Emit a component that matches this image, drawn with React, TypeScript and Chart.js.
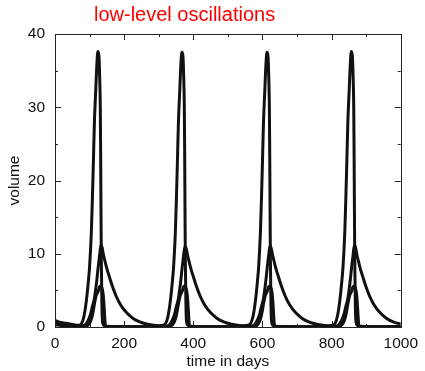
import React, { useEffect, useRef } from "react";
import { Chart, registerables } from "chart.js";

Chart.register(...registerables);

const chartTitle = "low-level oscillations";
const xTitle = "time in days";
const yTitle = "volume";

const xMin = 0;
const xMax = 1000;
const xStep = 200;
const yMin = 0;
const yMax = 40;
const yStep = 10;
const xMinorTicks = [100, 300, 500, 700, 900];
const yMinorTicks = [5, 15, 25, 35];

// tall curve [day, volume]
const volA: [number, number][] = [
  [0, 0.9], [10, 0.7], [30, 0.5], [50, 0.35], [70, 0.25],
  [77, 0.5], [84, 1.5], [91, 3.7], [96, 6], [100, 8.2], [105, 12.8], [108, 17.3], [111, 22.5], [114, 28], [118, 32.5], [121, 35.8], [124, 37.6], [127, 37], [129, 34.5], [131, 30], [132, 24], [133, 16], [134, 9], [135.5, 3.5], [137, 1], [140, 0.3], [150, 0.1], [220, 0.05], [300, 0.15],
  [313, 0.25], [320, 0.5], [327, 1.5], [334, 3.7], [339, 6], [343, 8.2], [348, 12.8], [351, 17.3], [354, 22.5], [357, 28], [361, 32.5], [364, 35.8], [367, 37.5], [370, 37], [372, 34.5], [374, 30], [375, 24], [376, 16], [377, 9], [378.5, 3.5], [380, 1], [383, 0.3], [393, 0.1], [460, 0.05], [545, 0.15],
  [559, 0.25], [566, 0.5], [573, 1.5], [580, 3.7], [585, 6], [589, 8.2], [594, 12.8], [597, 17.3], [600, 22.5], [603, 28], [607, 32.5], [610, 35.8], [613, 37.5], [616, 37], [618, 34.5], [620, 30], [621, 24], [622, 16], [623, 9], [624.5, 3.5], [626, 1], [629, 0.3], [639, 0.1], [710, 0.05], [790, 0.15],
  [803, 0.25], [810, 0.5], [817, 1.5], [824, 3.7], [829, 6], [833, 8.2], [838, 12.8], [841, 17.3], [844, 22.5], [847, 28], [851, 32.5], [854, 35.8], [857, 37.6], [860, 37], [862, 34.5], [864, 30], [865, 24], [866, 16], [867, 9], [868.5, 3.5], [870, 1], [873, 0.3], [883, 0.1], [950, 0.05], [1000, 0.1],
];

// medium curve [day, volume]
const volB: [number, number][] = [
  [0, 0.5], [30, 0.3], [60, 0.15],
  [85, 0.2], [91, 0.5], [97, 1], [103, 1.8], [108, 2.8], [114, 3.9], [120, 6], [125, 8.2], [129, 9.8], [133, 11.2], [136, 10.9], [140, 9.9], [145, 8.9], [151, 7.8], [157, 6.9], [165, 5.7], [177, 4.2], [190, 3], [206, 2], [225, 1.2], [245, 0.7], [265, 0.4], [290, 0.2], [315, 0.1],
  [328, 0.2], [334, 0.5], [340, 1], [346, 1.8], [351, 2.8], [357, 3.9], [363, 6], [368, 8.2], [372, 9.8], [376, 11], [379, 10.8], [383, 9.9], [388, 8.9], [394, 7.8], [400, 6.9], [408, 5.7], [420, 4.2], [433, 3], [449, 2], [468, 1.2], [488, 0.7], [508, 0.4], [533, 0.2], [558, 0.1],
  [574, 0.2], [580, 0.5], [586, 1], [592, 1.8], [597, 2.8], [603, 3.9], [609, 6], [614, 8.2], [618, 9.8], [622, 11.1], [625, 10.8], [629, 9.9], [634, 8.9], [640, 7.8], [646, 6.9], [654, 5.7], [666, 4.2], [679, 3], [695, 2], [714, 1.2], [734, 0.7], [754, 0.4], [779, 0.2], [804, 0.1],
  [818, 0.2], [824, 0.5], [830, 1], [836, 1.8], [841, 2.8], [847, 3.9], [853, 6], [858, 8.2], [862, 9.8], [866, 11.2], [869, 10.9], [873, 9.9], [878, 8.9], [884, 7.8], [890, 6.9], [898, 5.7], [910, 4.2], [923, 3], [939, 2], [958, 1.2], [978, 0.7], [1000, 0.4],
];

// small curve [day, volume]
const volC: [number, number][] = [
  [0, 0.3], [40, 0.1], [80, 0.05],
  [90, 0.1], [100, 0.5], [106, 1.2], [111, 2.3], [115, 3.4], [119, 4.3], [123, 4.7], [126, 5], [129, 5.5], [132, 5.6], [136, 5.3], [139, 4.6], [141, 3.5], [143, 2], [144.5, 0.8], [146, 0.2], [150, 0.05], [320, 0.05],
  [333, 0.1], [343, 0.5], [349, 1.2], [354, 2.3], [358, 3.4], [362, 4.3], [366, 4.7], [369, 5], [372, 5.5], [375, 5.6], [379, 5.3], [382, 4.6], [384, 3.5], [386, 2], [387.5, 0.8], [389, 0.2], [393, 0.05], [565, 0.05],
  [579, 0.1], [589, 0.5], [595, 1.2], [600, 2.3], [604, 3.4], [608, 4.3], [612, 4.7], [615, 5], [618, 5.5], [621, 5.6], [625, 5.3], [628, 4.6], [630, 3.5], [632, 2], [633.5, 0.8], [635, 0.2], [639, 0.05], [810, 0.05],
  [823, 0.1], [833, 0.5], [839, 1.2], [844, 2.3], [848, 3.4], [852, 4.3], [856, 4.7], [859, 5], [862, 5.5], [865, 5.6], [869, 5.3], [872, 4.6], [874, 3.5], [876, 2], [877.5, 0.8], [879, 0.2], [883, 0.05], [1000, 0.05],
];

const FONT = '"Liberation Sans", Arial, Helvetica, sans-serif';
const INK = "#111111";

const framePlugin = {
  id: "frameTicks",
  afterDraw(chart: any) {
    const { ctx, chartArea, scales } = chart;
    const { left, right, top, bottom } = chartArea;
    const x = scales.x;
    const y = scales.y;
    ctx.save();
    ctx.strokeStyle = "#222";
    ctx.lineWidth = 1;
    ctx.strokeRect(Math.round(left) + 0.5, Math.round(top) + 0.5, Math.round(right - left), Math.round(bottom - top));
    const seg = (x1: number, y1: number, x2: number, y2: number) => {
      ctx.beginPath();
      ctx.moveTo(x1, y1);
      ctx.lineTo(x2, y2);
      ctx.stroke();
    };
    const major = 6;
    const minor = 3;
    for (let v = xMin; v <= xMax; v += xStep) {
      const px = Math.round(x.getPixelForValue(v)) + 0.5;
      seg(px, bottom, px, bottom - major);
      seg(px, top, px, top + major);
    }
    for (const v of xMinorTicks) {
      const px = Math.round(x.getPixelForValue(v)) + 0.5;
      seg(px, bottom, px, bottom - minor);
      seg(px, top, px, top + minor);
    }
    for (let v = yMin; v <= yMax; v += yStep) {
      const py = Math.round(y.getPixelForValue(v)) + 0.5;
      seg(left, py, left + major, py);
      seg(right, py, right - major, py);
    }
    for (const v of yMinorTicks) {
      const py = Math.round(y.getPixelForValue(v)) + 0.5;
      seg(left, py, left + minor, py);
      seg(right, py, right - minor, py);
    }
    // title
    ctx.fillStyle = "#ff0000";
    ctx.font = `20px ${FONT}`;
    ctx.textAlign = "left";
    ctx.textBaseline = "alphabetic";
    ctx.fillText(chartTitle, 94, 21);
    // axis titles
    ctx.fillStyle = INK;
    ctx.font = `15.5px ${FONT}`;
    ctx.textAlign = "center";
    ctx.fillText(xTitle, (left + right) / 2, 366);
    ctx.translate(18.5, (top + bottom) / 2);
    ctx.rotate(-Math.PI / 2);
    ctx.fillText(yTitle, 0, 0);
    ctx.restore();
  },
};

export default function App() {
  const ref = useRef<HTMLCanvasElement>(null);
  useEffect(() => {
    if (!ref.current) return;
    const mk = (pts: [number, number][]) => pts.map(([x, y]) => ({ x, y }));
    const ds = (label: string, pts: [number, number][]) => ({
      label,
      data: mk(pts),
      borderColor: INK,
      backgroundColor: INK,
      borderWidth: 3,
      pointRadius: 0,
      fill: false,
      cubicInterpolationMode: "monotone" as const,
    });
    const chart = new Chart(ref.current, {
      type: "line",
      data: {
        datasets: [ds("A", volA), ds("B", volB), ds("C", volC)],
      },
      options: {
        animation: false,
        responsive: false,
        devicePixelRatio: 1,
        layout: { padding: { top: 34, right: 20, left: 0, bottom: 0 } },
        plugins: {
          legend: { display: false },
          title: { display: false },
          tooltip: { enabled: false },
        },
        scales: {
          x: {
            type: "linear",
            min: xMin,
            max: xMax,
            grid: { display: false, drawTicks: false, tickLength: 0 },
            border: { display: false },
            ticks: {
              stepSize: xStep,
              maxRotation: 0,
              padding: 7,
              color: INK,
              font: { family: FONT, size: 15.5 },
              callback: (v: any) => String(v),
            },
            afterFit: (s: any) => {
              s.height = 44;
            },
          },
          y: {
            type: "linear",
            min: yMin,
            max: yMax,
            grid: { display: false, drawTicks: false, tickLength: 0 },
            border: { display: false },
            ticks: {
              stepSize: yStep,
              padding: 10,
              color: INK,
              font: { family: FONT, size: 15.5 },
              callback: (v: any) => String(v),
            },
            afterFit: (s: any) => {
              s.width = 55;
            },
          },
        },
      },
      plugins: [framePlugin],
    });
    return () => chart.destroy();
  }, []);
  return (
    <div style={{ position: "absolute", left: 0, top: 0, width: 425, height: 371, background: "#fff" }}>
      <canvas ref={ref} width={425} height={371} />
    </div>
  );
}
